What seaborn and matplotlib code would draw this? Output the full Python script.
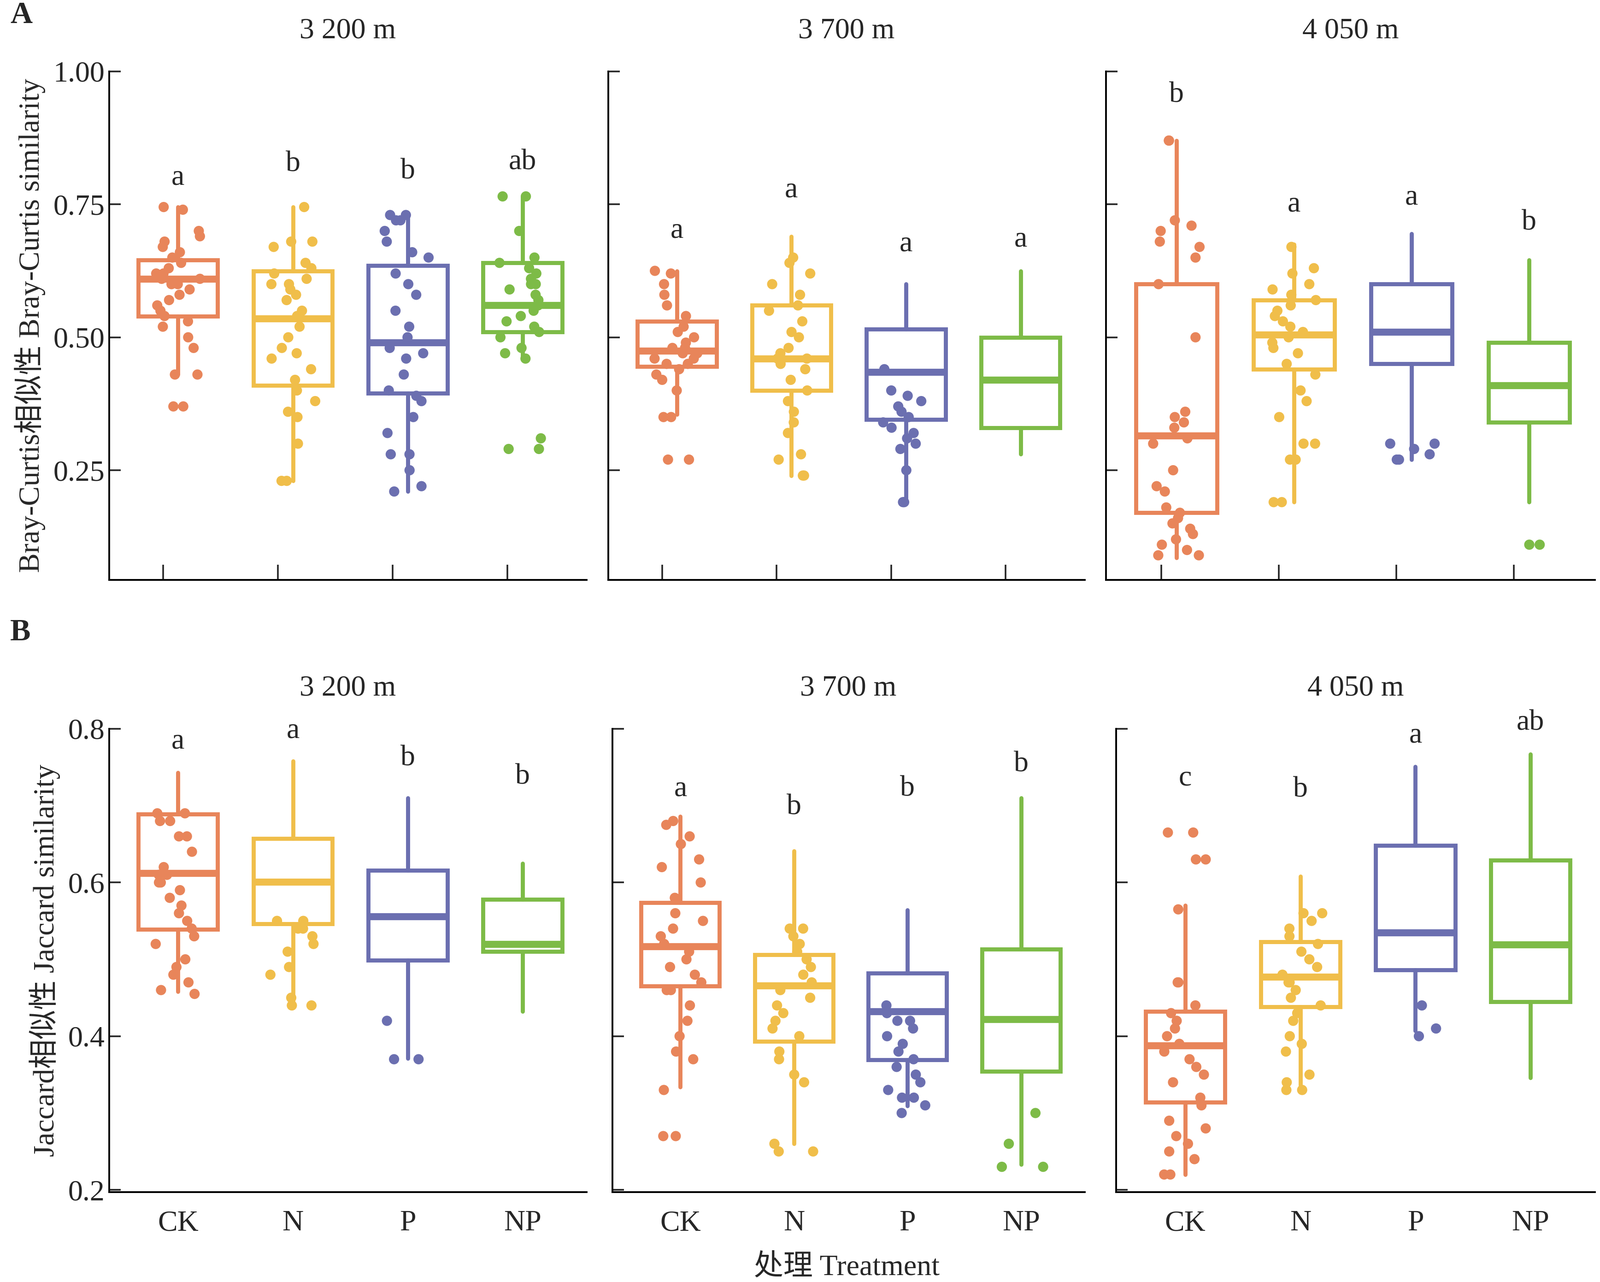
import numpy as np
import pandas as pd
import matplotlib
matplotlib.use("Agg")
import matplotlib.pyplot as plt
import seaborn as sns

sns.set_theme(style="ticks")
plt.rcParams['font.family'] = ['Liberation Serif', 'Noto Sans CJK SC']

CATS = ['CK', 'N', 'P', 'NP']
COLORS = {'CK': '#E8855A', 'N': '#F0BE4A', 'P': '#6B6FB0', 'NP': '#7DBB47'}
SITES = ['3 200 m', '3 700 m', '4 050 m']

# box stats: (whislo, q1, med, q3, whishi) per site per treatment
bray_box = [
    [(.43, .54, .61, .645, .745), (.23, .41, .535, .625, .745), (.21, .395, .49, .635, .73), (.46, .51, .56, .64, .765)],
    [(.355, .445, .475, .53, .625), (.24, .40, .46, .56, .69), (.19, .345, .435, .515, .60), (.28, .33, .42, .50, .625)],
    [(.085, .17, .315, .60, .87), (.19, .44, .505, .57, .675), (.27, .45, .51, .60, .695), (.19, .34, .41, .49, .645)],
]
jac_box = [
    [(.458, .539, .612, .689, .743), (.441, .546, .601, .657, .758), (.371, .499, .556, .616, .71), (.432, .51, .52, .578, .625)],
    [(.334, .465, .517, .574, .686), (.26, .393, .466, .506, .641), (.309, .369, .432, .482, .564), (.233, .354, .422, .513, .71)],
    [(.22, .314, .388, .432, .57), (.336, .438, .477, .523, .608), (.407, .486, .535, .648, .751), (.346, .445, .519, .629, .767)],
]
bray_letters = [['a', 'b', 'b', 'ab'], ['a', 'a', 'a', 'a'], ['b', 'a', 'a', 'b']]
bray_letter_y = [[.775, .80, .786, .804], [.675, .752, .65, .659], [.93, .725, .738, .69]]
jac_letters = [['a', 'a', 'b', 'b'], ['a', 'b', 'b', 'b'], ['c', 'b', 'a', 'ab']]
jac_letter_y = [[.766, .78, .744, .72], [.704, .68, .704, .736], [.718, .703, .774, .79]]

bray_pts = [
    {'CK': [.745, .74, .70, .69, .68, .67, .66, .65, .64, .63, .62, .62, .61, .61, .60, .60, .59, .58, .57, .56, .55, .54, .53, .52, .50, .48, .43, .43, .37, .37],
     'N': [.745, .68, .68, .67, .64, .63, .62, .61, .60, .60, .59, .58, .57, .55, .54, .52, .50, .48, .47, .46, .44, .42, .40, .38, .36, .35, .30, .23, .23],
     'P': [.73, .73, .72, .72, .70, .68, .66, .65, .62, .60, .58, .55, .52, .50, .48, .47, .46, .43, .40, .39, .38, .35, .32, .28, .28, .25, .22, .21],
     'NP': [.765, .765, .70, .65, .64, .63, .62, .61, .60, .60, .59, .58, .57, .56, .55, .54, .53, .52, .51, .50, .48, .47, .46, .31, .29, .29]},
    {'CK': [.625, .62, .60, .58, .56, .54, .52, .51, .50, .49, .48, .48, .47, .47, .46, .46, .45, .45, .44, .43, .42, .40, .35, .35, .27, .27],
     'N': [.65, .64, .62, .60, .58, .56, .55, .53, .51, .50, .48, .47, .46, .46, .45, .44, .42, .40, .38, .36, .34, .32, .28, .27, .24, .24],
     'P': [.44, .40, .39, .38, .37, .36, .35, .34, .33, .32, .31, .30, .29, .25, .19, .19],
     'NP': []},
    {'CK': [.87, .87, .72, .71, .70, .68, .67, .65, .60, .50, .36, .35, .34, .33, .31, .30, .25, .22, .21, .18, .17, .16, .15, .14, .13, .12, .11, .10, .09, .09],
     'N': [.67, .63, .62, .60, .59, .58, .57, .56, .55, .54, .53, .52, .51, .50, .49, .48, .47, .45, .43, .40, .38, .35, .30, .30, .27, .27, .19, .19],
     'P': [.30, .30, .29, .28, .27, .27],
     'NP': [.11, .11]},
]
jac_pts = [
    {'CK': [.69, .69, .68, .68, .66, .66, .64, .62, .61, .61, .60, .60, .59, .58, .57, .56, .55, .54, .53, .52, .50, .49, .48, .47, .46, .455],
     'N': [.55, .55, .54, .54, .53, .52, .51, .49, .48, .45, .44, .44],
     'P': [.42, .37, .37],
     'NP': []},
    {'CK': [.68, .675, .66, .65, .63, .62, .60, .58, .56, .55, .54, .53, .52, .51, .50, .49, .48, .47, .46, .46, .44, .42, .40, .38, .37, .33, .27, .27],
     'N': [.54, .54, .53, .52, .51, .50, .49, .48, .47, .46, .45, .44, .43, .42, .41, .40, .38, .37, .35, .34, .26, .25, .25],
     'P': [.44, .43, .42, .42, .41, .40, .39, .38, .37, .36, .35, .34, .33, .32, .32, .31, .30],
     'NP': [.30, .26, .23, .23]},
    {'CK': [.665, .665, .63, .63, .565, .47, .47, .44, .43, .42, .41, .40, .39, .38, .37, .36, .35, .34, .32, .31, .29, .28, .27, .26, .25, .24, .22, .22],
     'N': [.56, .56, .55, .54, .53, .52, .51, .50, .49, .48, .47, .47, .46, .45, .44, .43, .42, .40, .39, .38, .35, .34, .33, .33],
     'P': [.44, .41, .40],
     'NP': []},
]

W, H = 3472, 2781
fig = plt.figure(figsize=(W / 200, H / 200), dpi=200)
FW, FH = 1568, 1256  # reference display coords
FS = 23


def rect(l, t, r, b):
    return [l / FW, 1 - b / FH, (r - l) / FW, (b - t) / FH]


top_rects = [rect(107, 70, 575, 568), rect(596, 70, 1063, 568), rect(1084, 70, 1563, 568)]
bot_rects = [rect(107, 714, 575, 1168), rect(600, 714, 1063, 1168), rect(1094, 714, 1563, 1168)]


def draw(ax, box, pts, letters, ly, ylim, yticks, title, show_y, show_x):
    stats = []
    for c, (lo, q1, med, q3, hi) in zip(CATS, box):
        stats.append(dict(whislo=lo, q1=q1, med=med, q3=q3, whishi=hi, fliers=[], label=c))
    bp = ax.bxp(stats, positions=range(4), widths=0.69, showcaps=False, showfliers=False,
                patch_artist=True, manage_ticks=False)
    for i, c in enumerate(CATS):
        col = COLORS[c]
        bp['boxes'][i].set(facecolor='none', edgecolor=col, linewidth=3.2)
        bp['medians'][i].set(color=col, linewidth=5.5)
        for w in bp['whiskers'][2 * i:2 * i + 2]:
            w.set(color=col, linewidth=3.2)
    df = pd.DataFrame([(i, v, c) for i, c in enumerate(CATS) for v in pts[c]],
                      columns=['pos', 'val', 'cat'])
    sns.stripplot(data=df, x='pos', y='val', hue='cat', palette=COLORS, native_scale=True,
                  jitter=0.2, size=8, ax=ax, legend=False, zorder=3)
    for i in range(4):
        ax.text(i, ly[i], letters[i], ha='center', va='bottom', fontsize=FS)
    ax.set_xlim(-0.6, 3.56)
    ax.set_ylim(*ylim)
    ax.set_yticks(yticks)
    ax.set_xlabel('')
    ax.set_ylabel('')
    ax.set_title(title, fontsize=FS, pad=26)
    ax.tick_params(direction='in', length=9, width=1.3, labelsize=FS)
    if show_x:
        ax.set_xticks(range(4))
        ax.set_xticklabels(CATS)
        ax.tick_params(axis='x', direction='out', length=0, pad=14)
    else:
        ax.set_xticks([i - 0.13 for i in range(4)])
        ax.set_xticklabels([])
        ax.tick_params(axis='x', direction='in', length=12)
    if not show_y:
        ax.set_yticklabels([])
    for s in ['top', 'right']:
        ax.spines[s].set_visible(False)
    for s in ['left', 'bottom']:
        ax.spines[s].set_linewidth(1.4)
        ax.spines[s].set_color('black')


for k in range(3):
    ax = fig.add_axes(top_rects[k])
    draw(ax, bray_box[k], bray_pts[k], bray_letters[k], bray_letter_y[k], (0.044, 1.0),
         [0.25, 0.5, 0.75, 1.0], SITES[k], k == 0, False)
    if k == 0:
        ax.set_yticklabels(['0.25', '0.50', '0.75', '1.00'])
        ax.set_ylabel('Bray-Curtis相似性 Bray-Curtis similarity', fontsize=FS, labelpad=6)
    ax = fig.add_axes(bot_rects[k])
    draw(ax, jac_box[k], jac_pts[k], jac_letters[k], jac_letter_y[k], (0.197, 0.8),
         [0.2, 0.4, 0.6, 0.8], SITES[k], k == 0, True)
    if k == 0:
        ax.set_yticklabels(['0.2', '0.4', '0.6', '0.8'])
        ax.set_ylabel('Jaccard相似性 Jaccard similarity', fontsize=FS, labelpad=6)

fig.text(10 / FW, 1 - 15 / FH, 'A', fontsize=FS + 1, fontweight='bold', va='center')
fig.text(10 / FW, 1 - 620 / FH, 'B', fontsize=FS + 1, fontweight='bold', va='center')
fig.text(830 / FW, 1 - 1242 / FH, '处理 Treatment', fontsize=FS, ha='center', va='center')

fig.savefig('out.png', dpi=200)
